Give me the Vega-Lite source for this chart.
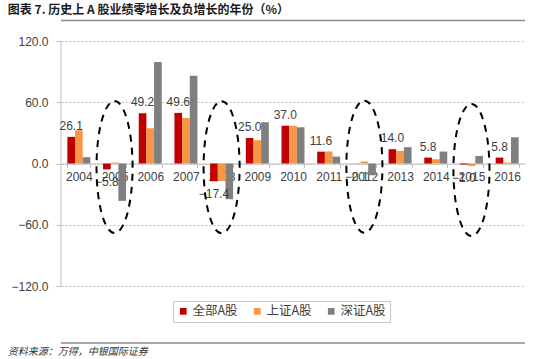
{
  "$schema": "https://vega.github.io/schema/vega-lite/v6.json",
  "width": 464,
  "height": 359,
  "autosize": {"type": "none"},
  "padding": {"left": 61, "top": 0, "right": 25, "bottom": 0},
  "background": "white",
  "config": {
    "view": {"stroke": null},
    "font": "Liberation Sans"
  },
  "datasets": {
    "bars": [
      {"year": "2004", "series": "全部A股", "value": 26.1},
      {"year": "2004", "series": "上证A股", "value": 32.6},
      {"year": "2004", "series": "深证A股", "value": 6.2},
      {"year": "2005", "series": "全部A股", "value": -5.8},
      {"year": "2005", "series": "上证A股", "value": 1.0},
      {"year": "2005", "series": "深证A股", "value": -36.6},
      {"year": "2006", "series": "全部A股", "value": 49.2},
      {"year": "2006", "series": "上证A股", "value": 34.5},
      {"year": "2006", "series": "深证A股", "value": 99.4},
      {"year": "2007", "series": "全部A股", "value": 49.6},
      {"year": "2007", "series": "上证A股", "value": 44.6},
      {"year": "2007", "series": "深证A股", "value": 86.0},
      {"year": "2008", "series": "全部A股", "value": -17.4},
      {"year": "2008", "series": "上证A股", "value": -17.0},
      {"year": "2008", "series": "深证A股", "value": -35.0},
      {"year": "2009", "series": "全部A股", "value": 25.0},
      {"year": "2009", "series": "上证A股", "value": 22.8},
      {"year": "2009", "series": "深证A股", "value": 40.4},
      {"year": "2010", "series": "全部A股", "value": 37.0},
      {"year": "2010", "series": "上证A股", "value": 37.0},
      {"year": "2010", "series": "深证A股", "value": 35.5},
      {"year": "2011", "series": "全部A股", "value": 11.6},
      {"year": "2011", "series": "上证A股", "value": 11.8},
      {"year": "2011", "series": "深证A股", "value": 6.8},
      {"year": "2012", "series": "全部A股", "value": -0.1},
      {"year": "2012", "series": "上证A股", "value": 2.0},
      {"year": "2012", "series": "深证A股", "value": -11.5},
      {"year": "2013", "series": "全部A股", "value": 14.0},
      {"year": "2013", "series": "上证A股", "value": 12.3},
      {"year": "2013", "series": "深证A股", "value": 16.0},
      {"year": "2014", "series": "全部A股", "value": 5.8},
      {"year": "2014", "series": "上证A股", "value": 4.2},
      {"year": "2014", "series": "深证A股", "value": 11.7},
      {"year": "2015", "series": "全部A股", "value": -1.0},
      {"year": "2015", "series": "上证A股", "value": -2.4},
      {"year": "2015", "series": "深证A股", "value": 7.4},
      {"year": "2016", "series": "全部A股", "value": 5.8},
      {"year": "2016", "series": "上证A股", "value": 1.0},
      {"year": "2016", "series": "深证A股", "value": 25.7}
    ],
    "circles": [
      {"year": "2005", "center": -3.5},
      {"year": "2008", "center": -3.6},
      {"year": "2012", "center": -3.1},
      {"year": "2015", "center": -6.4}
    ],
    "framelines": [
      {"pos": 140.1},
      {"pos": -175.8}
    ],
    "notes": [
      {"note": "图表 7. 历史上 A 股业绩零增长及负增长的年份（%）", "ny": 150.4, "kind": "title"},
      {"note": "资料来源：万得，中银国际证券", "ny": -184.7, "kind": "source"}
    ]
  },
  "layer": [
    {
      "data": {"name": "bars"},
      "mark": {"type": "bar", "width": {"band": 1}},
      "encoding": {
        "x": {
          "field": "year", "type": "nominal", "sort": null,
          "scale": {"paddingInner": 0.356, "paddingOuter": 0.178},
          "axis": {
            "title": null, "orient": "bottom", "offset": -195.5,
            "labelAngle": 0, "labelFontSize": 12, "labelColor": "#404040",
            "labelFont": "Liberation Sans",
            "domainColor": "#bfbfbf", "tickColor": "#bfbfbf", "tickSize": 4,
            "tickBand": "extent", "labelPadding": 4, "grid": false
          }
        },
        "xOffset": {
          "field": "series", "type": "nominal",
          "scale": {"domain": ["全部A股", "上证A股", "深证A股"], "paddingInner": 0, "paddingOuter": 0}
        },
        "y": {
          "field": "value", "type": "quantitative",
          "scale": {"domain": [-191.5, 160.17], "nice": false, "zero": false},
          "axis": {
            "title": null, "values": [-120, -60, 0, 60, 120], "format": ".1f",
            "labelFontSize": 12, "labelColor": "#404040", "labelFont": "Liberation Sans",
            "labelPadding": 8, "domain": false, "tickColor": "#bfbfbf",
            "tickSize": 5, "grid": true, "gridColor": "#bfbfbf", "gridDash": [2, 2]
          }
        },
        "color": {
          "field": "series", "type": "nominal",
          "scale": {"domain": ["全部A股", "上证A股", "深证A股"], "range": ["#C00000", "#F79646", "#7F7F7F"]},
          "legend": {
            "title": null, "orient": "none", "direction": "horizontal",
            "legendX": 112, "legendY": 301,
            "symbolType": "square", "symbolSize": 45, "symbolStrokeWidth": 0,
            "labelFontSize": 12.5, "labelColor": "#404040", "labelFont": "Noto Sans CJK SC",
            "labelOffset": 3, "columnPadding": 13,
            "strokeColor": "#c8c8c8", "padding": 4, "fillColor": "white"
          }
        }
      }
    },
    {
      "data": {"values": [{"lo": -120, "hi": 120}]},
      "mark": {"type": "rule", "stroke": "#bfbfbf", "strokeWidth": 1},
      "encoding": {
        "x": {"datum": "2004", "type": "nominal", "bandPosition": -0.2765},
        "y": {"field": "lo", "type": "quantitative", "scale": {"domain": [-191.5, 160.17], "nice": false, "zero": false}},
        "y2": {"field": "hi"}
      }
    },
    {
      "data": {"name": "bars"},
      "transform": [{"filter": "datum.series === '全部A股' && datum.value >= 0"}],
      "mark": {"type": "text", "baseline": "bottom", "dy": -4, "fontSize": 12, "color": "#404040", "font": "Liberation Sans"},
      "encoding": {
        "x": {"field": "year", "type": "nominal", "sort": null},
        "xOffset": {"field": "series", "type": "nominal"},
        "y": {"field": "value", "type": "quantitative", "scale": {"domain": [-191.5, 160.17], "nice": false, "zero": false}},
        "text": {"field": "value", "type": "quantitative", "format": ".1f"}
      }
    },
    {
      "data": {"name": "bars"},
      "transform": [{"filter": "datum.series === '全部A股' && datum.value < 0"}],
      "mark": {"type": "text", "baseline": "top", "dy": 8, "fontSize": 12, "color": "#404040", "font": "Liberation Sans"},
      "encoding": {
        "x": {"field": "year", "type": "nominal", "sort": null},
        "xOffset": {"field": "series", "type": "nominal"},
        "y": {"field": "value", "type": "quantitative", "scale": {"domain": [-191.5, 160.17], "nice": false, "zero": false}},
        "text": {"field": "value", "type": "quantitative", "format": ".1f"}
      }
    },
    {
      "data": {"name": "circles"},
      "mark": {
        "type": "point", "filled": false, "stroke": "black", "strokeWidth": 2,
        "strokeDash": [7, 6], "size": 17424, "opacity": 1,
        "shape": "M0,-1 C0.151,-1 0.273,-0.552 0.273,0 C0.273,0.552 0.151,1 0,1 C-0.151,1 -0.273,0.552 -0.273,0 C-0.273,-0.552 -0.151,-1 0,-1 Z"
      },
      "encoding": {
        "x": {"field": "year", "type": "nominal", "sort": null},
        "y": {"field": "center", "type": "quantitative", "scale": {"domain": [-191.5, 160.17], "nice": false, "zero": false}}
      }
    },
    {
      "data": {"name": "framelines"},
      "mark": {"type": "rule", "stroke": "#8c8c8c", "strokeWidth": 1.5},
      "encoding": {
        "y": {"field": "pos", "type": "quantitative", "scale": {"domain": [-191.5, 160.17], "nice": false, "zero": false}}
      }
    },
    {
      "data": {"name": "notes"},
      "transform": [{"filter": "datum.kind === 'title'"}],
      "mark": {"type": "text", "align": "left", "baseline": "middle", "dx": -71, "fontSize": 12, "fontWeight": "bold", "font": "Noto Sans CJK SC", "color": "#1a1a1a", "clip": false},
      "encoding": {
        "x": {"datum": "2004", "type": "nominal"},
        "y": {"field": "ny", "type": "quantitative", "scale": {"domain": [-191.5, 160.17], "nice": false, "zero": false}},
        "text": {"field": "note", "type": "nominal"}
      }
    },
    {
      "data": {"name": "notes"},
      "transform": [{"filter": "datum.kind === 'source'"}],
      "mark": {"type": "text", "align": "left", "baseline": "middle", "dx": -71, "fontSize": 10, "fontStyle": "italic", "font": "Noto Sans CJK SC", "color": "#333333", "clip": false},
      "encoding": {
        "x": {"datum": "2004", "type": "nominal"},
        "y": {"field": "ny", "type": "quantitative", "scale": {"domain": [-191.5, 160.17], "nice": false, "zero": false}},
        "text": {"field": "note", "type": "nominal"}
      }
    }
  ]
}
